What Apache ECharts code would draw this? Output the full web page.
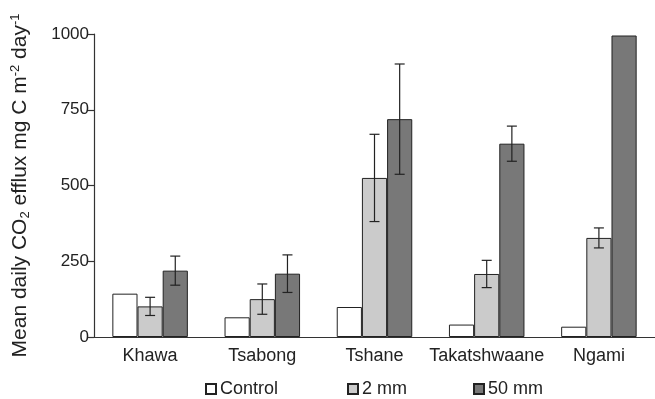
<!DOCTYPE html>
<html>
<head>
<meta charset="utf-8">
<script src="https://cdn.jsdelivr.net/npm/echarts@6/dist/echarts.min.js"></script>
<style>
  html, body { margin: 0; padding: 0; background: #fff; }
  #chart { width: 655px; height: 399px; }
</style>
</head>
<body>
<div id="chart"></div>
<script>
// Soil CO2 efflux at five sites under three watering treatments
const sites = ['Khawa', 'Tsabong', 'Tshane', 'Takatshwaane', 'Ngami'];
const treatments = ['Control', '2 mm', '50 mm'];
const controlMean = [143, 65, 99, 41, 34];
const mm2Mean = [101, 125, 525, 208, 327];
const mm2Err = [30, 50, 144, 45, 33];
const mm50Mean = [219, 209, 719, 638, 995];
const mm50Err = [48, 62, 182, 58, null];
const yTicks = [0, 250, 500, 750, 1000];

const fillColors = ['#ffffff', '#cbcbcb', '#787878'];
const FONT = 'Liberation Sans, Arial, Helvetica, sans-serif';
const CAT_GAP = 0.327;

const chart = echarts.init(document.getElementById('chart'), null, { renderer: 'canvas' });

function barSeries(name, values, color) {
  return {
    name: name,
    type: 'bar',
    data: values,
    barGap: '0%',
    barCategoryGap: (CAT_GAP * 100) + '%',
    itemStyle: { color: color, borderColor: '#222', borderWidth: 1 },
    emphasis: { disabled: true },
    z: 2
  };
}

// Error whiskers drawn over the bars of one treatment (seriesPos: 0,1,2 within group)
function errorSeries(means, errs, seriesPos) {
  const data = [];
  means.forEach((m, i) => {
    if (errs[i] != null) data.push([i, m - errs[i], m + errs[i]]);
  });
  return {
    type: 'custom',
    data: data,
    z: 5,
    silent: true,
    renderItem: function (params, api) {
      const idx = api.value(0);
      const lo = api.coord([idx, api.value(1)]);
      const hi = api.coord([idx, api.value(2)]);
      const catW = api.size([1, 0])[0];
      const barW = catW * (1 - CAT_GAP) / 3;
      const x = lo[0] + (seriesPos - 1) * barW;
      const cap = 5;
      const style = { stroke: '#222', lineWidth: 1.2 };
      return {
        type: 'group',
        children: [
          { type: 'line', shape: { x1: x, y1: lo[1], x2: x, y2: hi[1] }, style: style },
          { type: 'line', shape: { x1: x - cap, y1: hi[1], x2: x + cap, y2: hi[1] }, style: style },
          { type: 'line', shape: { x1: x - cap, y1: lo[1], x2: x + cap, y2: lo[1] }, style: style }
        ]
      };
    }
  };
}

function legendAt(name, left) {
  return {
    data: [name],
    left: left,
    top: 380,
    icon: 'rect',
    itemWidth: 10,
    itemHeight: 10,
    itemGap: 0,
    selectedMode: false,
    textStyle: { fontFamily: FONT, fontSize: 18, color: '#222', padding: [0, 0, 0, -1] },
    padding: 0
  };
}

const option = {
  animation: false,
  backgroundColor: '#ffffff',
  textStyle: { fontFamily: FONT },
  grid: { left: 94, right: 0, top: 34, bottom: 62, containLabel: false },
  legend: [
    legendAt(treatments[0], 205),
    legendAt(treatments[1], 347),
    legendAt(treatments[2], 473)
  ],
  xAxis: {
    type: 'category',
    data: sites,
    axisLine: { lineStyle: { color: '#333', width: 1.2 } },
    axisTick: { length: 5, lineStyle: { color: '#333', width: 1.2 } },
    axisLabel: { fontFamily: FONT, fontSize: 18, color: '#222', margin: 10, interval: 0 }
  },
  yAxis: {
    type: 'value',
    min: 0,
    max: 1000,
    interval: 250,
    splitLine: { show: false },
    axisLine: { show: true, lineStyle: { color: '#333', width: 1.2 } },
    axisTick: { show: true, length: 6, lineStyle: { color: '#333', width: 1.2 } },
    axisLabel: {
      fontFamily: FONT, fontSize: 17, color: '#222', margin: 5,
      formatter: function (v) { return yTicks.indexOf(v) >= 0 ? String(v) : ''; }
    },
    name: '{a|Mean daily CO}{sub|2}{a| efflux mg C m}{sup|-2}{a| day}{sup|-1}',
    nameLocation: 'middle',
    nameRotate: 90,
    nameGap: 62,
    nameTextStyle: {
      rich: {
        a: { fontFamily: FONT, fontSize: 21, color: '#222', lineHeight: 24 },
        sub: { fontFamily: FONT, fontSize: 13, color: '#222', padding: [10, 0, 0, 0], lineHeight: 24 },
        sup: { fontFamily: FONT, fontSize: 13, color: '#222', padding: [0, 0, 10, 0], lineHeight: 24 }
      }
    }
  },
  series: [
    barSeries(treatments[0], controlMean, fillColors[0]),
    barSeries(treatments[1], mm2Mean, fillColors[1]),
    barSeries(treatments[2], mm50Mean, fillColors[2]),
    errorSeries(mm2Mean, mm2Err, 1),
    errorSeries(mm50Mean, mm50Err, 2)
  ]
};

chart.setOption(option);
</script>
</body>
</html>
